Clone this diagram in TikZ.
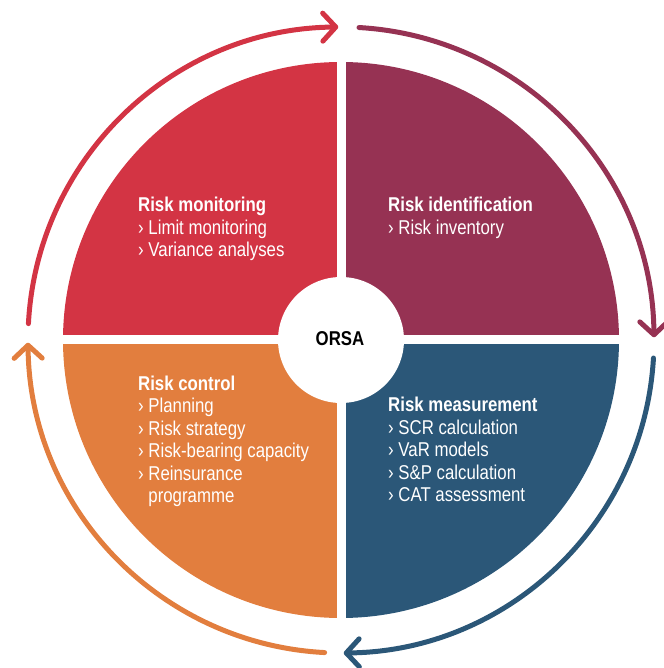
\documentclass[tikz,border=0pt]{standalone}
\usepackage{fontspec}
\setmainfont{Liberation Sans}[FakeStretch=0.84]
\usetikzlibrary{arrows.meta}
\definecolor{monred}{HTML}{D33444}
\definecolor{idpurple}{HTML}{963253}
\definecolor{measblue}{HTML}{2B5778}
\definecolor{ctrlorange}{HTML}{E27E3E}

% bullet with the hanging indent of the lists
\newcommand{\itm}{›\ }
\newcommand{\hang}{\phantom{›\ }}

\tikzset{
  phasetext/.style={anchor=north west, align=left, text=white, inner sep=0pt,
    font=\fontsize{20}{22.5}\selectfont},
  cyclearrow/.style={line width=5pt, line cap=round,
    -{Straight Barb[round, length=13pt, width=28pt]}},
}

\begin{document}
\begin{tikzpicture}[x=1pt, y=1pt]
  \useasboundingbox (-341,-328) rectangle (322,340);

  % the four phases
  \fill[monred] (0,0) -- (180:278) arc[start angle=180, end angle=90, radius=278] -- cycle;
  \fill[idpurple] (0,0) -- (90:278) arc[start angle=90, end angle=0, radius=278] -- cycle;
  \fill[measblue] (0,0) -- (0:278) arc[start angle=0, end angle=-90, radius=278] -- cycle;
  \fill[ctrlorange] (0,0) -- (-90:278) arc[start angle=-90, end angle=-180, radius=278] -- cycle;

  % white cross between phases and the hub
  \draw[white, line width=9pt] (-290,0) -- (290,0);
  \draw[white, line width=9pt] (0,-290) -- (0,290);
  \fill[white] (0,0) circle (63);
  \node[font=\fontsize{20}{22}\selectfont\bfseries] (orsa) at (-1,1.5) {ORSA};

  % labels
  \node[phasetext] (monitoring) at (-203,142.9)
    {\textbf{Risk monitoring}\\ \itm Limit monitoring\\ \itm Variance analyses};
  \node[phasetext] (identification) at (47,142.9)
    {\textbf{Risk identification}\\ \itm Risk inventory};
  \node[phasetext] (control) at (-203,-35.4)
    {\textbf{Risk control}\\ \itm Planning\\ \itm Risk strategy\\
     \itm Risk-bearing capacity\\ \itm Reinsurance\\ \hang programme};
  \node[phasetext] (measurement) at (47,-57.1)
    {\textbf{Risk measurement}\\ \itm SCR calculation\\ \itm VaR models\\
     \itm S\&P calculation\\ \itm CAT assessment};

  % outer cycle
  \draw[cyclearrow, monred] (177:313) arc[start angle=177, end angle=90.5, radius=313];
  \draw[cyclearrow, idpurple] (86.7:313) arc[start angle=86.7, end angle=0.5, radius=313];
  \draw[cyclearrow, measblue] (-3.3:313) arc[start angle=-3.3, end angle=-89.5, radius=313];
  \draw[cyclearrow, ctrlorange] (267:313) arc[start angle=267, end angle=180.5, radius=313];
\end{tikzpicture}
\end{document}
